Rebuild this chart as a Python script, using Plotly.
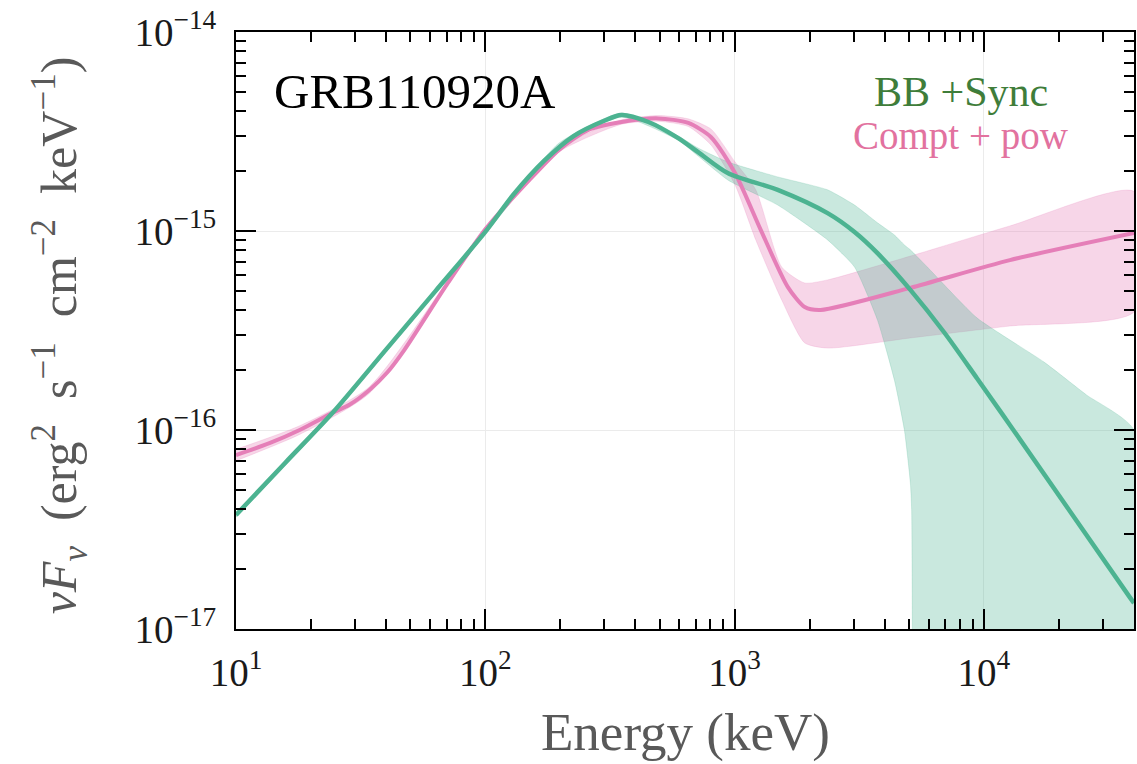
import plotly.graph_objects as go

# ---------------- data ----------------
# BB + Sync best fit
bb_energy = [10, 15.8, 24.4, 39.8, 63.1, 100, 130, 172, 226, 298, 352, 451, 594, 714,
             942, 1489, 2360, 3027, 3741, 5070, 6934, 9376, 12706, 38370, 40000]
bb_flux = [3.74e-17, 6.87e-17, 1.22e-16, 2.52e-16, 4.99e-16, 9.89e-16, 1.53e-15,
           2.25e-15, 3.00e-15, 3.57e-15, 3.83e-15, 3.53e-15, 2.93e-15, 2.49e-15,
           1.95e-15, 1.61e-15, 1.23e-15, 9.89e-16, 7.74e-16, 5.06e-16, 3.09e-16,
           1.82e-16, 1.06e-16, 1.45e-17, 1.35e-17]

# BB + Sync uncertainty band
bb_up_energy = [10, 24.4, 100, 197, 352, 594, 714, 942, 1489, 2360, 3027, 3741,
                4375, 4797, 5070, 5929, 9376, 17378, 25800, 40000]
bb_up_flux = [3.84e-17, 1.25e-16, 1.01e-15, 2.76e-15, 3.92e-15, 3.00e-15, 2.61e-15,
              2.22e-15, 1.87e-15, 1.61e-15, 1.35e-15, 1.10e-15, 9.55e-16, 8.51e-16,
              8.04e-16, 6.59e-16, 3.66e-16, 2.20e-16, 1.50e-16, 1.0e-16]
bb_lo_energy = [10, 24.4, 100, 197, 352, 594, 714, 942, 1489, 2360, 3027, 3741,
                4375, 4797, 5070, 5129, 5176, 5200, 40000]
bb_lo_flux = [3.64e-17, 1.19e-16, 9.67e-16, 2.64e-15, 3.74e-15, 2.86e-15, 2.38e-15,
              1.80e-15, 1.35e-15, 9.02e-16, 6.59e-16, 3.57e-16, 1.78e-16, 1.0e-16,
              5.42e-17, 3.98e-17, 3.16e-18, 1e-20, 1e-20]

# Compt + pow best fit
cp_energy = [10, 13.7, 18.0, 24.4, 28.5, 34.3, 40.5, 47.3, 70.8, 100, 150, 197, 259,
             352, 494, 652, 805, 1005, 1274, 1633, 1910, 2213, 5070, 12706, 40000]
cp_flux = [7.48e-17, 8.61e-17, 1.0e-16, 1.22e-16, 1.34e-16, 1.59e-16, 1.95e-16,
           2.52e-16, 5.48e-16, 1.02e-15, 1.80e-15, 2.55e-15, 3.22e-15, 3.53e-15,
           3.68e-15, 3.49e-15, 2.96e-15, 1.95e-15, 1.01e-15, 5.24e-16, 4.15e-16,
           4.01e-16, 5.18e-16, 7.14e-16, 9.77e-16]

# Compt + pow uncertainty band
cp_up_energy = [10, 18.0, 34.3, 100, 197, 352, 494, 652, 805, 1005, 1216, 1545,
                1910, 2360, 5070, 12706, 40000]
cp_up_flux = [8.0e-17, 1.05e-16, 1.65e-16, 1.04e-15, 2.61e-15, 3.62e-15, 3.80e-15,
              3.66e-15, 3.25e-15, 2.22e-15, 1.61e-15, 6.59e-16, 5.48e-16, 5.68e-16,
              7.48e-16, 1.06e-15, 1.58e-15]
cp_lo_energy = [10, 18.0, 34.3, 100, 197, 352, 494, 652, 805, 1005, 1216, 1545,
                1910, 2360, 5070, 12706, 40000]
cp_lo_flux = [7.0e-17, 9.5e-17, 1.53e-16, 1.0e-15, 2.49e-15, 3.44e-15, 3.56e-15,
              3.35e-15, 2.70e-15, 1.70e-15, 9.02e-16, 4.50e-16, 2.74e-16, 2.58e-16,
              2.90e-16, 3.33e-16, 3.92e-16]

x_tickvals = [10, 100, 1000, 10000]
x_ticktext = ["10<sup>1</sup>", "10<sup>2</sup>", "10<sup>3</sup>", "10<sup>4</sup>"]
y_tickvals = [1e-17, 1e-16, 1e-15, 1e-14]
y_ticktext = ["10<sup>−17</sup>", "10<sup>−16</sup>", "10<sup>−15</sup>", "10<sup>−14</sup>"]

GREEN = "#4cb391"
PINK = "#e57fb8"
FONT = "Liberation Serif"

fig = go.Figure()

# bands
fig.add_trace(go.Scatter(
    x=cp_up_energy + cp_lo_energy[::-1], y=cp_up_flux + cp_lo_flux[::-1],
    fill="toself", fillcolor="rgba(229,127,184,0.32)", mode="lines",
    line=dict(width=0.5, color="rgba(229,127,184,0.4)", shape="spline", smoothing=0.6),
    hoverinfo="skip", showlegend=False))
fig.add_trace(go.Scatter(
    x=bb_up_energy + bb_lo_energy[::-1], y=bb_up_flux + bb_lo_flux[::-1],
    fill="toself", fillcolor="rgba(76,179,145,0.30)", mode="lines",
    line=dict(width=0.5, color="rgba(76,179,145,0.4)", shape="spline", smoothing=0.5),
    hoverinfo="skip", showlegend=False))

# best-fit lines
fig.add_trace(go.Scatter(x=cp_energy, y=cp_flux, mode="lines",
                         line=dict(color=PINK, width=4, shape="spline", smoothing=0.7),
                         name="Compt + pow", showlegend=False))
fig.add_trace(go.Scatter(x=bb_energy, y=bb_flux, mode="lines",
                         line=dict(color=GREEN, width=4.5, shape="spline", smoothing=0.8),
                         name="BB +Sync", showlegend=False))

x_minor = [m * 10 ** k for k in range(1, 5) for m in range(2, 10) if m * 10 ** k <= 40000]
y_minor = [m * 10.0 ** k for k in range(-17, -14) for m in range(2, 10)]

axis_common = dict(
    type="log", showline=True, linecolor="black", linewidth=2, mirror="allticks",
    ticks="inside", ticklen=20, tickwidth=2, tickcolor="black",
    showgrid=True, gridcolor="#ebebeb", gridwidth=1, zeroline=False,
    tickmode="array",
    tickfont=dict(family=FONT, size=39, color="#1a1a1a"),
)

fig.update_xaxes(**axis_common, range=[1, 4.602],
                 tickvals=x_tickvals, ticktext=x_ticktext, ticklabelstandoff=8,
                 minor=dict(tickmode="array", tickvals=x_minor, ticks="inside",
                            ticklen=10, tickwidth=1.5, tickcolor="black", showgrid=False))
fig.update_yaxes(**axis_common, range=[-17, -14],
                 tickvals=y_tickvals, ticktext=y_ticktext, ticklabelstandoff=10,
                 minor=dict(tickmode="array", tickvals=y_minor, ticks="inside",
                            ticklen=10, tickwidth=1.5, tickcolor="black", showgrid=False))

ann = dict(xref="paper", yref="paper", showarrow=False, xanchor="center", yanchor="middle")
fig.add_annotation(text="GRB110920A", x=0.199, y=0.8995,
                   font=dict(family=FONT, size=49, color="black"), **ann)
fig.add_annotation(text="BB +Sync", x=0.807, y=0.8995,
                   font=dict(family=FONT, size=42, color="#3f7d3a"), **ann)
fig.add_annotation(text="Compt + pow", x=0.807, y=0.826,
                   font=dict(family=FONT, size=39, color="#e2729f"), **ann)
fig.add_annotation(text="Energy (keV)", x=0.5, y=-0.174,
                   font=dict(family=FONT, size=53, color="#595959"), **ann)
sp = "\u2002"
fig.add_annotation(
    text=("<i>νF<sub>ν</sub></i>" + sp + "(erg<sup>2</sup>" + sp + "s<sup>−1</sup>" + sp +
          "cm<sup>−2</sup>" + sp + "keV<sup>−1</sup>)"),
    x=-0.1956, y=0.4925, textangle=-90,
    font=dict(family=FONT, size=50, color="#595959"), **ann)

fig.update_layout(
    width=1137, height=764,
    margin=dict(l=236, r=1, t=32, b=135),
    paper_bgcolor="white", plot_bgcolor="white",
    showlegend=False,
)

fig.write_html("out.html")
